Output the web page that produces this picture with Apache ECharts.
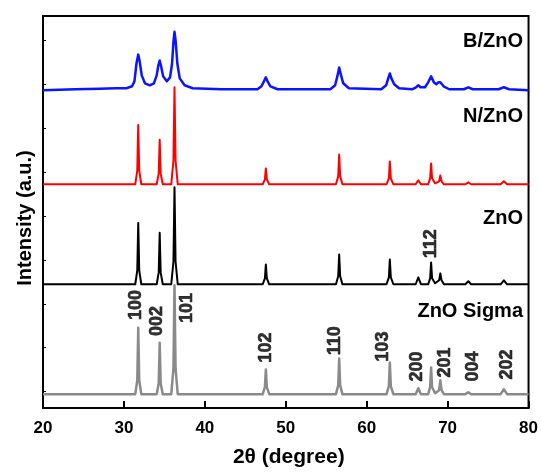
<!DOCTYPE html>
<html>
<head>
<meta charset="utf-8">
<script src="https://cdn.jsdelivr.net/npm/echarts@6/dist/echarts.min.js"></script>
<style>
html,body{margin:0;padding:0;background:#fff;}
#main{width:541px;height:473px;}
</style>
</head>
<body>
<div id="main"></div>
<script>
// XRD patterns, [2theta, intensity a.u.]
var bZnO = [[20,321],[24,322],[27,322.5],[29,323],[30.3,323],[31.0,325],[31.3,330],[31.55,348],[31.77,357],[31.95,350],[32.2,336],[32.6,328],[33.2,326],[33.7,328],[34.05,336],[34.25,346],[34.42,351],[34.6,345],[34.85,335],[35.3,330],[35.7,334],[35.95,348],[36.12,370],[36.25,380],[36.4,370],[36.6,348],[36.9,333],[37.5,326],[38.5,323],[42,322],[46.5,322],[47.0,325],[47.3,330],[47.54,334],[47.75,330],[48.1,325],[49,322],[55.5,322],[56.1,326],[56.4,336],[56.6,344],[56.8,337],[57.1,328],[57.8,323],[61.8,322],[62.4,326],[62.7,334],[62.86,338],[63.05,333],[63.4,327],[64,323],[65.6,322],[66.1,324],[66.38,326],[66.65,324],[67.2,324],[67.6,329],[67.96,335],[68.3,329],[68.6,327],[68.85,329],[69.1,329],[69.5,325],[70.2,322],[72.0,322],[72.56,324],[73.1,322],[76.3,322],[76.95,324],[77.6,322],[80,321]];
var nZnO = [[20,226],[31.4,226],[31.65,240],[31.77,286],[31.89,240],[32.15,226],[34.05,226],[34.3,237],[34.42,271],[34.54,237],[34.8,226],[35.85,226],[36.12,250],[36.25,324],[36.38,250],[36.65,226],[47.15,226],[47.42,231],[47.54,242],[47.66,231],[47.95,226],[56.2,226],[56.48,234],[56.6,256],[56.72,234],[57.0,226],[62.45,226],[62.74,232],[62.86,249],[62.98,232],[63.3,226],[66.05,226],[66.38,230],[66.7,226],[67.6,226],[67.84,232],[67.96,247],[68.08,232],[68.45,227],[68.95,229],[69.1,235],[69.25,229],[69.55,226],[72.2,226],[72.56,228],[72.9,226],[76.55,226],[76.95,229],[77.35,226],[80,226]];
var pureZnO = [[20,125],[31.4,125],[31.65,139],[31.77,187],[31.89,139],[32.15,125],[34.05,125],[34.3,137],[34.42,177],[34.54,137],[34.8,125],[35.85,125],[36.12,148],[36.25,223],[36.38,148],[36.65,125],[47.15,125],[47.42,131],[47.54,145],[47.66,131],[47.95,125],[56.2,125],[56.48,133],[56.6,155],[56.72,133],[57.0,125],[62.45,125],[62.74,132],[62.86,150],[62.98,132],[63.3,125],[66.05,125],[66.38,132],[66.7,125],[67.6,125],[67.84,131],[67.96,147],[68.08,131],[68.45,126],[68.95,129],[69.1,136],[69.25,129],[69.55,125],[72.2,125],[72.56,128],[72.9,125],[76.55,125],[76.95,129],[77.35,125],[80,125]];
var sigmaZnO = [[20,14],[31.4,14],[31.65,28],[31.77,81],[31.89,28],[32.15,14],[34.05,14],[34.3,25],[34.42,66],[34.54,25],[34.8,14],[35.85,14],[36.12,40],[36.25,124],[36.38,40],[36.65,14],[47.15,14],[47.42,21],[47.54,39],[47.66,21],[47.95,14],[56.2,14],[56.48,23],[56.6,50],[56.72,23],[57.0,14],[62.45,14],[62.74,22],[62.86,46],[62.98,22],[63.3,14],[66.05,14],[66.38,20],[66.7,14],[67.6,14],[67.84,21],[67.96,41],[68.08,21],[68.45,15],[68.95,18],[69.1,28],[69.25,18],[69.55,14],[72.2,14],[72.56,16],[72.9,14],[76.55,14],[76.95,19],[77.35,14],[80,14]];

// hkl labels: [2theta, height of label centre, text]
var hklLabels = [[31.5,104,'100'],[34.15,88,'002'],[37.83,101,'101'],[47.6,61,'102'],[56.04,68,'110'],[61.96,62,'103'],[66.17,42,'200'],[69.73,46,'201'],[73.2,42,'004'],[77.4,44,'202'],[67.9,166,'112']];

var sampleNames = ['B/ZnO','N/ZnO','ZnO','ZnO Sigma'];
var sampleNameY = [42, 117, 219, 312];

var xTicks = [20,30,40,50,60,70,80];
var yTicks = [16.6,60.9,105.2,149.5,193.8,238.1,282.4,326.7,371.0];

var myChart = echarts.init(document.getElementById('main'));

var lineSeries = function(data, color, width){
	return {
		type:'line',
		data:data,
		showSymbol:false,
		symbol:'none',
		silent:true,
		lineStyle:{color:color,width:width,join:'round'},
		z:3
	};
};

var option = {
	animation:false,
	backgroundColor:'#fff',
	textStyle:{fontFamily:'Liberation Sans, Arial, sans-serif'},
	grid:{
		left:43, top:16, right:9, bottom:61,
		show:true, borderColor:'#000', borderWidth:2
	},
	xAxis:{
		type:'value',
		min:20, max:80, interval:10,
		name:'2θ (degree)',
		nameLocation:'middle',
		nameGap:39,
		nameTextStyle:{fontSize:21,fontWeight:'bold',color:'#000',padding:[0,0,0,6]},
		axisLine:{show:true,lineStyle:{color:'#000',width:2}},
		axisTick:{show:true,inside:true,length:7,lineStyle:{color:'#000',width:2}},
		axisLabel:{fontSize:17,fontWeight:'bold',color:'#000',margin:12,
			customValues:xTicks},
		splitLine:{show:false}
	},
	yAxis:{
		type:'value',
		min:0, max:396,
		name:'Intensity (a.u.)',
		nameLocation:'middle',
		nameGap:8,
		nameTextStyle:{fontSize:20,fontWeight:'bold',color:'#000',padding:[0,12,0,0]},
		axisLine:{show:true,lineStyle:{color:'#000',width:2}},
		axisTick:{show:true,inside:true,length:3,customValues:yTicks,lineStyle:{color:'#000',width:1}},
		axisLabel:{show:false},
		splitLine:{show:false}
	},
	series:[
		lineSeries(sigmaZnO,'#8a8a8a',2.5),
		lineSeries(pureZnO,'#000000',2),
		lineSeries(nZnO,'#ff0000',2),
		lineSeries(bZnO,'#0a14ff',2.5),
		{
			type:'scatter',
			data:hklLabels.map(v=>[v[0],v[1],v[2]]),
			symbolSize:0,
			silent:true,
			z:4,
			label:{
				show:true,
				position:'inside',
				rotate:90,
				fontSize:18,
				fontWeight:'bold',
				color:'#000',
				textBorderColor:'#000',
				textBorderWidth:0.6,
				align:'center',
				verticalAlign:'middle',
				formatter:function(p){return p.data[2];}
			}
		}
	],
	graphic:sampleNames.map((n,i)=>({
		type:'text',
		right:18,
		top:sampleNameY[i]-11,
		style:{
			text:n,
			fill:'#000',
			font:'bold 20px "Liberation Sans", Arial, sans-serif',
			textAlign:'right'
		}
	}))
};
myChart.setOption(option);
</script>
</body>
</html>
